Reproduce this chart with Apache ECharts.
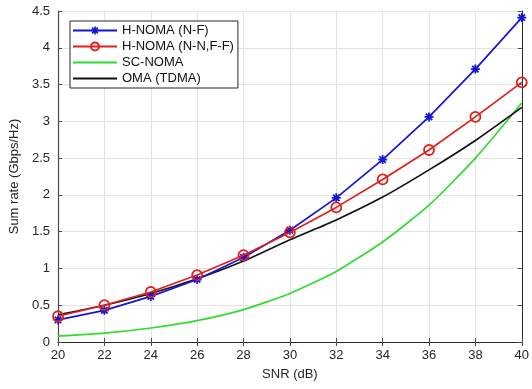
<!DOCTYPE html>
<html>
<head>
<meta charset="utf-8">
<script src="https://cdn.jsdelivr.net/npm/echarts@6/dist/echarts.min.js"></script>
<style>
  html, body { margin: 0; padding: 0; background: #fff; }
  #chart { width: 532px; height: 389px; }
</style>
</head>
<body>
<div id="chart"></div>
<script>
const snr = [20, 22, 24, 26, 28, 30, 32, 34, 36, 38, 40];
const hnomaNF = [0.30, 0.43, 0.62, 0.85, 1.15, 1.52, 1.96, 2.48, 3.06, 3.71, 4.41];
const hnomaNNFF = [0.35, 0.50, 0.68, 0.91, 1.18, 1.49, 1.83, 2.21, 2.61, 3.06, 3.53];
const scNoma = [0.08, 0.12, 0.19, 0.29, 0.44, 0.66, 0.96, 1.36, 1.86, 2.50, 3.25];
const oma = [0.37, 0.50, 0.66, 0.86, 1.10, 1.39, 1.66, 1.97, 2.34, 2.74, 3.19];

const pair = (ys) => snr.map((x, i) => [x, ys[i]]);

// asterisk-like marker for the N-F curve (thick arms so it reads as a blob like the original)
const asterisk = 'path://M8,0 L12,0 L12,20 L8,20 Z M0,8 L20,8 L20,12 L0,12 Z ' +
  'M1.5,4.3 L4.3,1.5 L18.5,15.7 L15.7,18.5 Z M15.7,1.5 L18.5,4.3 L4.3,18.5 L1.5,15.7 Z';

const axisColor = '#4a4a4a';
const font = 'Liberation Sans, Arial, sans-serif';

const chart = echarts.init(document.getElementById('chart'), null, { renderer: 'canvas' });

chart.setOption({
  animation: false,
  textStyle: { fontFamily: font, color: '#262626' },
  grid: { left: 58, right: 8, top: 11, bottom: 47 },
  legend: {
    left: 70,
    top: 21,
    orient: 'vertical',
    itemWidth: 44,
    itemHeight: 10,
    itemGap: 3,
    padding: [3, 4, 3, 2],
    borderColor: '#262626',
    borderWidth: 1,
    backgroundColor: '#fff',
    textStyle: { fontSize: 13, color: '#111', fontFamily: font },
    data: [
      { name: 'H-NOMA (N-F)' },
      { name: 'H-NOMA (N-N,F-F)' },
      // plain lines only: hide the legend marker
      { name: 'SC-NOMA', itemStyle: { opacity: 0 } },
      { name: 'OMA (TDMA)', itemStyle: { opacity: 0 } },
    ],
  },
  xAxis: [
    {
      type: 'value',
      min: 20,
      max: 40,
      interval: 2,
      name: 'SNR (dB)',
      nameLocation: 'middle',
      nameGap: 26,
      nameTextStyle: { fontSize: 13, color: '#262626' },
      axisLine: { lineStyle: { color: axisColor, width: 1.2 } },
      axisTick: { inside: true, length: 4, lineStyle: { color: axisColor } },
      axisLabel: { fontSize: 13, color: '#262626', margin: 7 },
      splitLine: { lineStyle: { color: '#e3e3e3' } },
    },
    {
      type: 'value',
      position: 'top',
      min: 20,
      max: 40,
      interval: 2,
      axisLine: { show: true, lineStyle: { color: '#262626' } },
      axisTick: { inside: true, length: 4, lineStyle: { color: axisColor } },
      axisLabel: { show: false },
      splitLine: { show: false },
    },
  ],
  yAxis: [
    {
      type: 'value',
      min: 0,
      max: 4.5,
      interval: 0.5,
      name: 'Sum rate (Gbps/Hz)',
      nameLocation: 'middle',
      nameGap: 31,
      nameTextStyle: { fontSize: 13, color: '#262626' },
      axisLine: { show: true, lineStyle: { color: axisColor, width: 1.2 } },
      axisTick: { show: true, inside: true, length: 4, lineStyle: { color: axisColor } },
      axisLabel: { fontSize: 13, color: '#262626', margin: 8 },
      splitLine: { lineStyle: { color: '#e3e3e3' } },
    },
    {
      type: 'value',
      position: 'right',
      min: 0,
      max: 4.5,
      interval: 0.5,
      axisLine: { show: true, lineStyle: { color: '#262626' } },
      axisTick: { show: true, inside: true, length: 4, lineStyle: { color: axisColor } },
      axisLabel: { show: false },
      splitLine: { show: false },
    },
  ],
  series: [
    {
      name: 'H-NOMA (N-F)',
      type: 'line',
      data: pair(hnomaNF),
      symbol: asterisk,
      symbolSize: 9,
      showAllSymbol: true,
      z: 4,
      lineStyle: { color: '#1515d6', width: 1.7 },
      itemStyle: { color: '#1515d6' },
    },
    {
      name: 'H-NOMA (N-N,F-F)',
      type: 'line',
      data: pair(hnomaNNFF),
      symbol: 'circle',
      symbolSize: 10,
      showAllSymbol: true,
      z: 5,
      lineStyle: { color: '#e0201c', width: 1.7 },
      itemStyle: { color: 'rgba(255,255,255,0)', borderColor: '#e0201c', borderWidth: 1.8 },
    },
    {
      name: 'SC-NOMA',
      type: 'line',
      data: pair(scNoma),
      symbol: 'none',
      smooth: 0.2,
      lineStyle: { color: '#2fdc2f', width: 1.7 },
      itemStyle: { color: '#2fdc2f' },
    },
    {
      name: 'OMA (TDMA)',
      type: 'line',
      data: pair(oma),
      symbol: 'none',
      smooth: 0.2,
      lineStyle: { color: '#111111', width: 1.7 },
      itemStyle: { color: '#111111' },
    },
  ],
});
</script>
</body>
</html>
